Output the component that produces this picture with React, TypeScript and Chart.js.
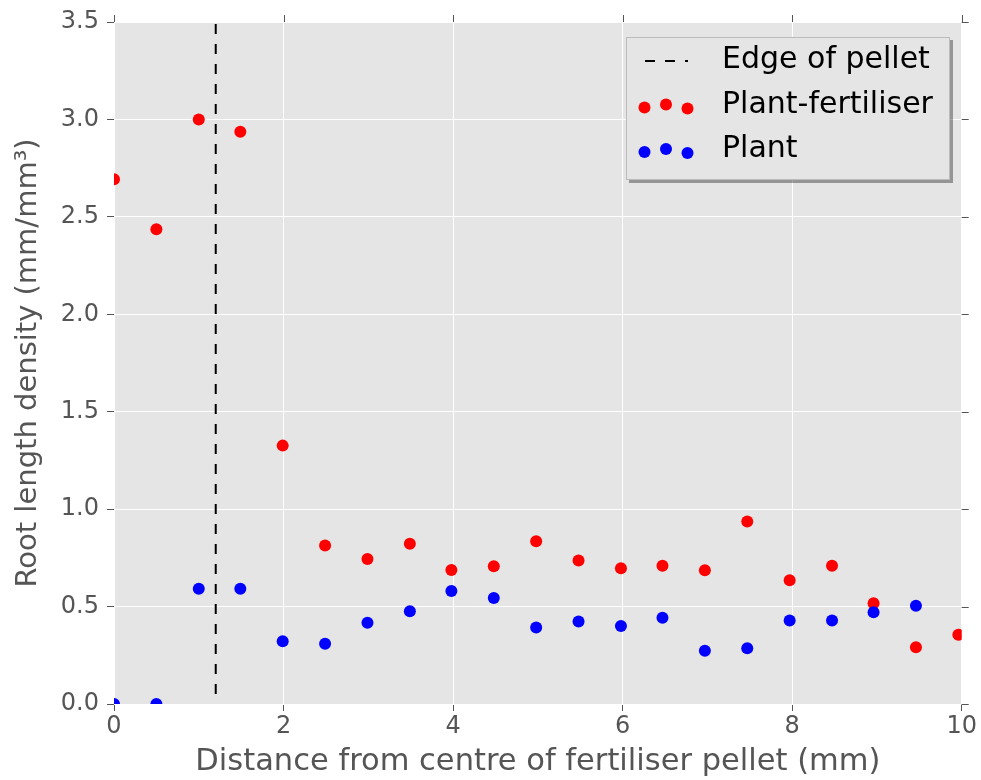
import React, { useEffect, useRef } from "react";
import { Chart, registerables } from "chart.js";

Chart.register(...registerables);

// ---- data ----
const xPositions = [0, 0.5, 1.0, 1.49, 1.99, 2.49, 2.99, 3.49, 3.98, 4.48, 4.98, 5.48, 5.98, 6.47, 6.97, 7.47, 7.97, 8.47, 8.96, 9.46, 9.96];
const plantFertiliser = [2.693, 2.437, 3.0, 2.937, 1.326, 0.813, 0.744, 0.823, 0.688, 0.707, 0.835, 0.736, 0.697, 0.71, 0.686, 0.936, 0.635, 0.71, 0.517, 0.291, 0.355];
const plant = [0, 0, 0.592, 0.592, 0.322, 0.309, 0.417, 0.476, 0.58, 0.544, 0.392, 0.423, 0.4, 0.443, 0.273, 0.286, 0.428, 0.428, 0.471, 0.504];
const pelletEdge = 1.2;
const xTicks = [0, 2, 4, 6, 8, 10];
const yTicks = [0, 0.5, 1.0, 1.5, 2.0, 2.5, 3.0, 3.5];
const seriesLabels = ["Edge of pellet", "Plant-fertiliser", "Plant"];

const FONT = "'DejaVu Sans', sans-serif";

const bgPlugin = {
  id: "bg",
  beforeDraw(chart: any) {
    const { ctx, chartArea: a } = chart;
    ctx.save();
    ctx.fillStyle = "#E5E5E5";
    ctx.fillRect(a.left, a.top, a.right - a.left, a.bottom - a.top);
    ctx.restore();
  },
};

const mirrorTicksPlugin = {
  id: "mirrorTicks",
  afterDraw(chart: any) {
    const { ctx, chartArea: a, scales } = chart;
    ctx.save();
    ctx.strokeStyle = "#555";
    ctx.lineWidth = 1;
    ctx.beginPath();
    for (const t of scales.x.ticks) {
      const px = Math.round(scales.x.getPixelForValue(t.value)) + 0.5;
      ctx.moveTo(px, a.top);
      ctx.lineTo(px, a.top - 7);
    }
    for (const t of scales.y.ticks) {
      const py = Math.round(scales.y.getPixelForValue(t.value)) + 0.5;
      ctx.moveTo(a.right, py);
      ctx.lineTo(a.right + 7, py);
    }
    ctx.stroke();
    ctx.restore();
  },
};

const legendPlugin = {
  id: "customLegend",
  afterDraw(chart: any) {
    const { ctx } = chart;
    const ds = chart.data.datasets;
    const box = { x: 626, y: 37, w: 324, h: 143 };
    ctx.save();
    ctx.fillStyle = "rgba(0,0,0,0.35)";
    ctx.fillRect(box.x + 3, box.y + 3, box.w, box.h);
    ctx.fillStyle = "#E5E5E5";
    ctx.fillRect(box.x, box.y, box.w, box.h);
    ctx.strokeStyle = "#BBBBBB";
    ctx.lineWidth = 1;
    ctx.strokeRect(box.x + 0.5, box.y + 0.5, box.w - 1, box.h - 1);

    const rows = [60, 105, 149.5];
    const markerX = [644.5, 666, 687.5];
    const markerDy = [2.5, -0.5, 3.5];
    ds.forEach((d: any, i: number) => {
      const y = rows[i];
      if (d.showLine) {
        ctx.strokeStyle = d.borderColor;
        ctx.lineWidth = 2;
        ctx.setLineDash([10, 10]);
        ctx.beginPath();
        ctx.moveTo(645, y + 1);
        ctx.lineTo(688, y + 1);
        ctx.stroke();
        ctx.setLineDash([]);
      } else {
        ctx.fillStyle = d.backgroundColor;
        markerX.forEach((mx, k) => {
          ctx.beginPath();
          ctx.arc(mx, y + markerDy[k], 6, 0, Math.PI * 2);
          ctx.fill();
        });
      }
      ctx.fillStyle = "#000";
      ctx.font = `30px ${FONT}`;
      ctx.textAlign = "left";
      ctx.textBaseline = "middle";
      ctx.fillText(d.label, 722, y);
    });
    ctx.restore();
  },
};

export default function App() {
  const canvasRef = useRef<HTMLCanvasElement | null>(null);

  useEffect(() => {
    if (!canvasRef.current) return;
    const chart = new Chart(canvasRef.current, {
      type: "scatter",
      data: {
        datasets: [
          {
            label: seriesLabels[0],
            data: [
              { x: pelletEdge, y: yTicks[yTicks.length - 1] },
              { x: pelletEdge, y: yTicks[0] },
            ],
            showLine: true,
            borderColor: "#000",
            borderWidth: 2,
            borderDash: [10, 10],
            borderDashOffset: 18,
            pointRadius: 0,
            order: 3,
            clip: 0,
          } as any,
          {
            label: seriesLabels[1],
            data: xPositions.map((x, i) => ({ x, y: plantFertiliser[i] })),
            backgroundColor: "#FF0000",
            borderWidth: 0,
            pointRadius: 6,
            order: 2,
            clip: 0,
          } as any,
          {
            label: seriesLabels[2],
            data: plant.map((y, i) => ({ x: xPositions[i], y })),
            backgroundColor: "#0000FF",
            borderWidth: 0,
            pointRadius: 6,
            order: 1,
            clip: 0,
          } as any,
        ],
      },
      options: {
        animation: false,
        responsive: false,
        layout: { padding: { top: 22, right: 17, left: 0, bottom: 0 } },
        plugins: { legend: { display: false }, tooltip: { enabled: false } },
        scales: {
          x: {
            type: "linear",
            min: xTicks[0],
            max: xTicks[xTicks.length - 1],
            afterFit: (s: any) => {
              s.height = 76;
            },
            afterBuildTicks: (s: any) => {
              s.ticks = xTicks.map((v) => ({ value: v }));
            },
            grid: { color: "#FFFFFF", lineWidth: 1, tickColor: "#555", tickLength: 7, drawTicks: true },
            border: { display: false },
            ticks: {
              color: "#555555",
              font: { family: FONT, size: 24, lineHeight: 1 },
              padding: 4,
              maxRotation: 0,
              callback: (v: any) => String(v),
            },
            title: {
              display: true,
              text: "Distance from centre of fertiliser pellet (mm)",
              color: "#555555",
              font: { family: FONT, size: 30.5, lineHeight: 1 },
              padding: { top: 0, bottom: 3 },
            },
          },
          y: {
            type: "linear",
            min: yTicks[0],
            max: yTicks[yTicks.length - 1],
            afterFit: (s: any) => {
              s.width = 114;
            },
            afterBuildTicks: (s: any) => {
              s.ticks = yTicks.map((v) => ({ value: v }));
            },
            grid: { color: "#FFFFFF", lineWidth: 1, tickColor: "#555", tickLength: 7, drawTicks: true },
            border: { display: false },
            ticks: {
              color: "#555555",
              font: { family: FONT, size: 24, lineHeight: 1 },
              padding: 8,
              callback: (v: any) => Number(v).toFixed(1),
            },
            title: {
              display: true,
              text: "Root length density (mm/mm³)",
              color: "#555555",
              font: { family: FONT, size: 29, lineHeight: 1 },
              padding: { top: 14, bottom: 0 },
            },
          },
        },
      },
      plugins: [bgPlugin, mirrorTicksPlugin, legendPlugin],
    });
    return () => chart.destroy();
  }, []);

  return (
    <div style={{ position: "absolute", left: 0, top: 0, width: 981, height: 780, background: "#fff" }}>
      <canvas ref={canvasRef} width={981} height={780} />
    </div>
  );
}
